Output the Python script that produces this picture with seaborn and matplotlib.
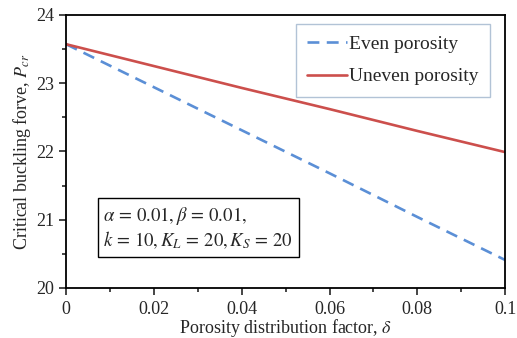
import matplotlib
matplotlib.use("Agg")
import matplotlib.pyplot as plt
import seaborn as sns
import pandas as pd
from matplotlib.ticker import MultipleLocator

# data
delta = [0.0, 0.02, 0.04, 0.06, 0.08, 0.1]
even_p = [23.57, 22.94, 22.31, 21.68, 21.04, 20.41]
uneven_p = [23.57, 23.25, 22.93, 22.62, 22.30, 21.99]

df = pd.DataFrame({
    "delta": delta * 2,
    "P": even_p + uneven_p,
    "case": ["Even porosity"] * len(delta) + ["Uneven porosity"] * len(delta),
})

sns.set_style("ticks")
plt.rcParams["font.family"] = ["Liberation Serif", "DejaVu Serif"]
plt.rcParams["mathtext.fontset"] = "stix"

fig = plt.figure(figsize=(5.17, 3.38), dpi=100)
ax = fig.add_axes([0.128, 0.148, 0.849, 0.808])

palette = {"Even porosity": "#5b8fd6", "Uneven porosity": "#cc4f4c"}
sns.lineplot(data=df, x="delta", y="P", hue="case", style="case",
             dashes={"Even porosity": (4.5, 2.8), "Uneven porosity": ""},
             palette=palette, linewidth=1.9, ax=ax)

ax.set_xlim(0, 0.1)
ax.set_ylim(20, 24)
ax.xaxis.set_major_locator(MultipleLocator(0.02))
ax.xaxis.set_minor_locator(MultipleLocator(0.01))
ax.yaxis.set_major_locator(MultipleLocator(1))
ax.yaxis.set_minor_locator(MultipleLocator(0.5))
ax.set_xticks([0, 0.02, 0.04, 0.06, 0.08, 0.1])
ax.set_xticklabels(["0", "0.02", "0.04", "0.06", "0.08", "0.1"])
ax.tick_params(which="major", direction="out", length=5, width=1.2, labelsize=13)
ax.tick_params(axis="x", which="major", pad=4.5)
ax.tick_params(which="minor", direction="out", length=3, width=1.2)
for s in ax.spines.values():
    s.set_linewidth(1.3)
    s.set_color("black")

ax.set_xlabel(r"Porosity distribution factor, $\delta$", fontsize=13, labelpad=-1)
ax.set_ylabel(r"Critical buckling forve, $P_{cr}$", fontsize=13, labelpad=2)

leg = ax.legend(loc="upper right", bbox_to_anchor=(0.966, 0.967), fontsize=14,
                handlelength=2.05, handletextpad=0.1, borderpad=0.6,
                labelspacing=0.75, borderaxespad=0, fancybox=False, frameon=True)
leg.get_frame().set_edgecolor("#9fb4cc")
leg.get_frame().set_linewidth(1.0)
leg.set_title(None)

ax.text(0.085, 0.305,
        r"$\alpha\, =\, 0.01, \beta\, =\, 0.01,$" + "\n"
        + r"$k\, =\, 10, K_L\, =\, 20, K_S\, =\, 20$",
        transform=ax.transAxes, fontsize=13.5, va="top", ha="left",
        linespacing=1.2,
        bbox=dict(boxstyle="square,pad=0.3", facecolor="white",
                  edgecolor="black", linewidth=1.0))

fig.savefig("out.png", dpi=100)
